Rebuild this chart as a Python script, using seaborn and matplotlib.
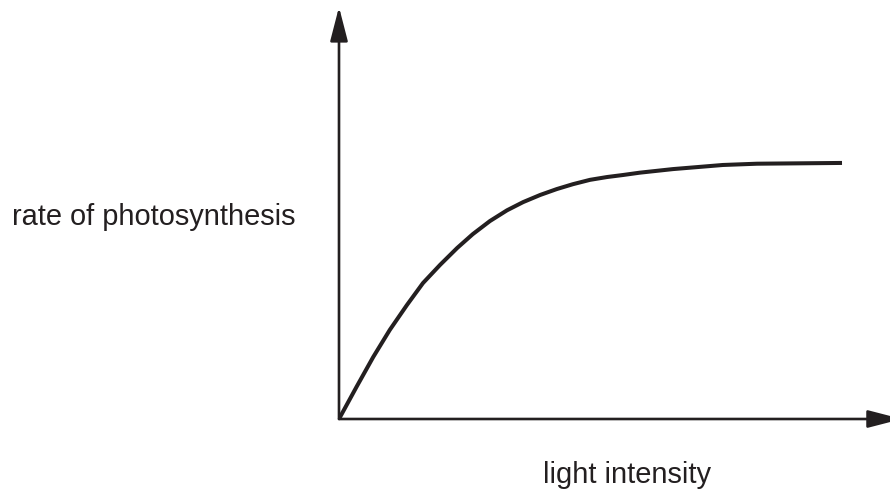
import numpy as np
import pandas as pd
import seaborn as sns
import matplotlib.pyplot as plt

# values (arbitrary units, plateau = 10)
light_intensity = [0, 0.35, 0.68, 1.01, 1.35, 1.67, 2.01, 2.35, 2.66, 3.0, 3.34, 3.66,
                   4.0, 4.33, 4.65, 4.99, 5.33, 5.65, 5.98, 6.64, 7.63, 8.31, 10.0]
photo_rate = [0, 1.26, 2.42, 3.48, 4.45, 5.31, 6.02, 6.68, 7.22, 7.73, 8.15, 8.47,
              8.75, 8.98, 9.17, 9.34, 9.45, 9.53, 9.62, 9.76, 9.92, 9.97, 10.0]
x_label = "light intensity"
y_label = "rate of photosynthesis"

ink = "#231f20"

sns.set_theme(style="white")
plt.rcParams['font.family'] = ['Liberation Sans', 'DejaVu Sans']

df = pd.DataFrame({"light": light_intensity, "rate": photo_rate})

fig = plt.figure(figsize=(8.9, 4.93), dpi=100)
ax = fig.add_axes([339 / 890, (493 - 419) / 493, (890 - 339) / 890, (419 - 7) / 493])

sns.lineplot(data=df, x="light", y="rate", ax=ax, color=ink, linewidth=2.9,
             solid_capstyle="butt", solid_joinstyle="round", sort=False)

xmax, ymax = 10.954, 16.09
ax.set_xlim(0, xmax)
ax.set_ylim(0, ymax)
ax.set_xticks([])
ax.set_yticks([])
ax.set_xlabel("")
ax.set_ylabel("")
sns.despine(ax=ax, left=True, bottom=True)

# axes drawn as arrows
arrow_kw = dict(arrowstyle="-|>,head_length=20.9,head_width=5.4", mutation_scale=1,
                color=ink, lw=1.9, shrinkA=0, shrinkB=0)
ax.annotate("", xy=(0, ymax), xytext=(0, 0), arrowprops=arrow_kw, annotation_clip=False)
ax.annotate("", xy=(11.19, 0), xytext=(0, 0), arrowprops=arrow_kw, annotation_clip=False)

fig.text(12 / 890, (493 - 225) / 493, y_label, ha="left", va="baseline",
         fontsize=20.9, color=ink)
fig.text(543 / 890, (493 - 483) / 493, x_label, ha="left", va="baseline",
         fontsize=20.9, color=ink)

fig.savefig("out.png", dpi=100)
